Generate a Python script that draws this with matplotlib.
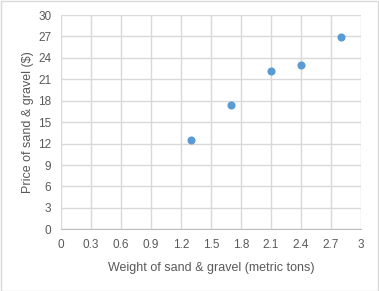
import matplotlib.pyplot as plt
from matplotlib.patches import Rectangle

# data
weight = [1.3, 1.7, 2.1, 2.4, 2.8]
price = [12.5, 17.4, 22.1, 23.0, 26.9]
xticks = [0, 0.3, 0.6, 0.9, 1.2, 1.5, 1.8, 2.1, 2.4, 2.7, 3]
yticks = [0, 3, 6, 9, 12, 15, 18, 21, 24, 27, 30]

plt.rcParams['font.family'] = ['Liberation Sans', 'DejaVu Sans']

fig = plt.figure(figsize=(3.79, 2.91), dpi=100)
ax = fig.add_axes([61 / 379, 1 - 229.3 / 291, 300 / 379, 214.3 / 291])

ax.scatter(weight, price, s=34, color='#5B9BD5', zorder=3, linewidths=0)

ax.set_xlim(0, 3)
ax.set_ylim(0, 30)
ax.set_xticks(xticks)
ax.set_xticklabels([f'{t:g}' for t in xticks])
ax.set_yticks(yticks)
ax.grid(True, color='#D9D9D9', linewidth=1)
ax.set_axisbelow(True)
for s in ['top', 'right', 'left']:
    ax.spines[s].set_visible(False)
ax.spines['bottom'].set_color('#BFBFBF')
ax.tick_params(length=0, labelsize=8.5, colors='#595959', pad=7)

ax.set_xlabel('Weight of sand & gravel (metric tons)', fontsize=9, color='#595959', labelpad=8)
ax.set_ylabel('Price of sand & gravel ($)', fontsize=9, color='#595959', labelpad=3)

fig.patches.append(Rectangle((0.5 / 379, 0.5 / 291), 377.5 / 379, 289.5 / 291, transform=fig.transFigure,
                             fill=False, edgecolor='#D9D9D9', linewidth=1))

fig.savefig('out.png', dpi=100)
